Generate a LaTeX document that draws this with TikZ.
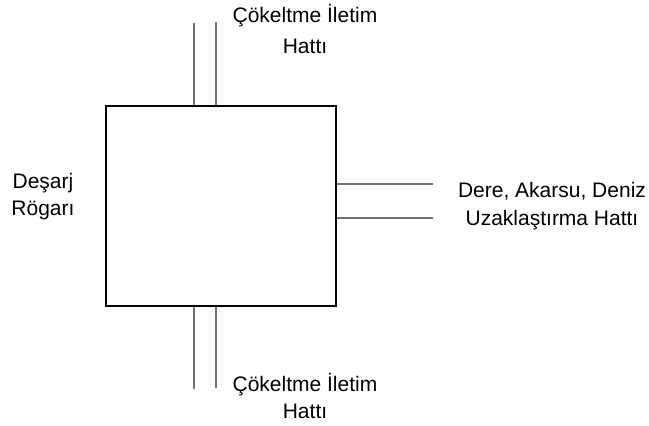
\documentclass[tikz,border=0pt]{standalone}
\usepackage{fontspec}
\setmainfont{Liberation Sans}
\begin{document}
\begin{tikzpicture}[x=1pt,y=-1pt,
  lbl/.style={anchor=base,inner sep=0pt,font=\fontsize{21}{25}\selectfont},
  pipe/.style={draw=black!55,line width=1.2pt},
  tank/.style={draw=black,line width=2.8pt}]
\useasboundingbox (0,0) rectangle (649,426);
\node[tank,minimum width=230pt,minimum height=200pt,inner sep=0pt] (box) at (221,206) {};
% top pipe
\coordinate (t1) at (194,23);
\coordinate (t2) at (216,22);
\draw[pipe] (t1) -- (t1 |- box.north);
\draw[pipe] (t2) -- (t2 |- box.north);
% bottom pipe
\coordinate (b1) at (194,389);
\coordinate (b2) at (216,388);
\draw[pipe] (b1) -- (b1 |- box.south);
\draw[pipe] (b2) -- (b2 |- box.south);
% right pipe
\coordinate (r1) at (433,184);
\coordinate (r2) at (433,218);
\draw[pipe] (r1) -- (r1 -| box.east);
\draw[pipe] (r2) -- (r2 -| box.east);
% labels
\node[lbl] (top1) at (305,22.5) {Çökeltme İletim};
\node[lbl] (top2) at (305,53) {Hattı};
\node[lbl] (bot1) at (305,391) {Çökeltme İletim};
\node[lbl] (bot2) at (305,418) {Hattı};
\node[lbl] (rt1) at (552,197) {Dere, Akarsu, Deniz};
\node[lbl] (rt2) at (552,225) {Uzaklaştırma Hattı};
\node[lbl] (lf1) at (43,188) {Deşarj};
\node[lbl] (lf2) at (43,215) {Rögarı};
\end{tikzpicture}
\end{document}
